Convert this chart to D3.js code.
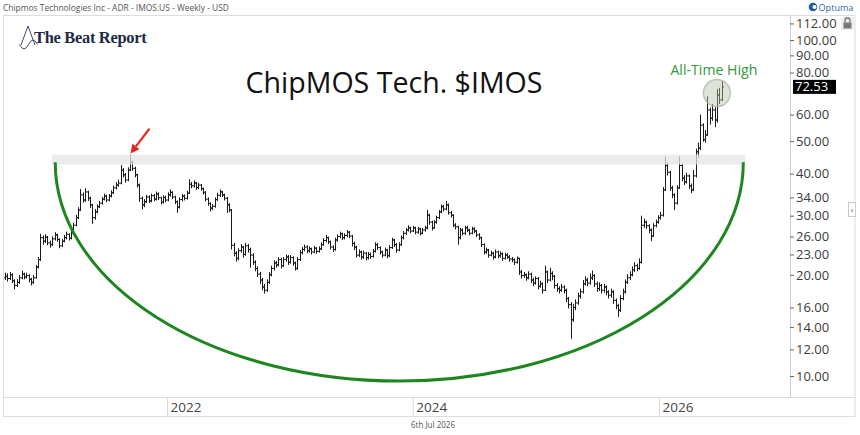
<!DOCTYPE html>
<html>
<head>
<meta charset="utf-8">
<script src="https://cdn.jsdelivr.net/npm/d3@7"></script>
<style>
  body { margin: 0; background: #fff; }
  svg { display: block; }
</style>
</head>
<body>
<svg id="chart" width="860" height="435"></svg>
<script>
// Weekly bars, first week starts Mon 7 Sep 2020
const startDate = "2020-09-07";

const closes = [
  19.8,19.5,20.0,19.2,18.6,19.0,19.6,20.1,19.7,19.9,
  19.4,19.0,19.6,21.1,22.2,25.8,25.2,25.9,24.9,24.6,
  25.6,26.3,25.5,24.4,25.2,25.8,26.4,25.7,26.6,28.1,
  29.6,31.2,34.6,33.4,35.3,33.8,32.3,29.6,30.8,31.9,
  32.7,33.6,34.3,33.4,34.3,35.1,36.3,37.0,37.5,41.0,
  39.7,38.3,41.0,43.3,41.5,39.7,37.0,33.8,32.3,33.0,
  34.1,33.2,34.4,33.6,34.8,33.9,32.9,34.0,33.4,34.6,
  35.2,34.1,33.0,31.8,33.5,34.3,33.8,35.0,37.2,36.8,
  37.5,36.4,37.0,36.1,35.2,33.6,32.6,31.6,32.0,33.5,
  34.5,35.3,34.6,33.8,32.3,31.2,24.5,23.2,22.4,23.6,
  24.2,23.0,24.4,23.8,22.9,21.8,20.9,20.1,19.3,18.4,
  18.0,19.0,20.0,20.9,21.7,21.4,22.2,21.3,22.2,22.6,
  21.8,22.5,21.7,20.9,22.2,23.3,23.8,24.2,23.6,23.9,
  23.4,24.0,23.5,23.9,24.6,25.3,25.8,25.1,24.2,23.8,
  25.4,26.0,26.5,25.8,26.2,26.8,26.1,24.8,24.2,22.9,
  23.4,22.6,23.2,22.5,23.0,22.7,23.5,24.6,24.1,23.4,
  22.9,23.7,22.8,24.1,25.4,24.6,23.7,24.6,25.8,26.6,
  27.2,27.6,27.0,27.6,26.8,27.4,26.6,27.2,27.6,30.1,
  28.7,27.6,28.7,29.6,30.8,31.9,31.4,32.3,30.6,30.1,
  28.1,27.8,25.8,27.2,26.6,27.6,27.2,26.6,27.4,27.0,
  26.3,25.8,24.6,23.4,23.7,22.9,23.2,22.6,23.4,22.8,
  23.1,22.4,22.9,22.6,22.3,22.2,21.8,22.4,20.4,19.9,
  20.0,19.6,20.1,19.3,18.9,19.5,18.5,18.8,18.0,20.4,
  19.3,20.2,19.8,18.6,18.2,18.0,18.4,18.0,17.0,16.3,
  14.7,16.0,16.5,17.3,17.8,18.8,19.3,18.9,19.6,19.9,
  18.8,18.2,18.6,18.0,18.4,17.8,17.4,17.8,16.8,16.2,
  15.7,17.0,17.8,19.0,19.6,20.0,20.7,21.3,20.9,21.8,
  28.1,28.7,28.0,27.2,26.1,28.0,28.7,29.6,30.1,35.8,
  42.3,40.4,36.3,34.6,32.7,36.3,42.3,38.8,37.8,39.4,
  36.8,35.8,39.4,46.5,47.7,55.8,50.5,52.2,61.9,58.5,
  61.9,57.8,68.6,66.3,72.53
];

const highs = [
  20.3,20.2,20.4,20.2,19.4,19.4,20.0,20.6,20.3,20.3,
  20.1,19.6,20.0,21.4,22.6,26.5,26.2,26.4,26.1,25.3,
  26.0,26.8,26.5,25.7,25.6,26.3,26.9,26.6,27.1,28.6,
  30.2,31.8,36.0,35.2,36.2,35.6,34.2,32.5,31.4,32.4,
  33.2,34.1,34.9,34.6,34.8,35.7,36.9,37.8,38.4,42.5,
  41.6,40.2,41.8,45.6,43.8,42.0,40.0,37.4,34.2,33.6,
  34.6,34.5,34.9,34.8,35.4,35.2,34.2,34.5,34.4,35.2,
  35.9,35.5,34.4,33.3,34.0,34.8,34.7,35.6,38.5,37.8,
  38.2,37.8,37.6,37.3,36.4,35.5,34.0,32.9,32.5,34.0,
  35.1,35.9,35.6,34.9,34.1,32.7,31.4,24.9,23.5,24.0,
  24.7,24.4,24.9,24.7,24.1,23.2,22.1,21.2,20.4,19.6,
  18.8,19.4,20.4,21.3,22.1,22.0,22.6,22.5,22.6,23.0,
  22.9,22.9,22.7,21.9,22.6,23.7,24.2,24.6,24.5,24.3,
  24.1,24.4,24.2,24.3,25.0,25.7,26.3,26.0,25.3,24.5,
  25.8,26.4,26.9,26.7,26.6,27.2,27.0,26.3,25.1,24.4,
  23.8,23.6,23.6,23.4,23.4,23.3,23.9,25.0,24.9,24.3,
  23.6,24.1,23.9,24.5,25.8,25.6,24.9,25.0,26.2,27.0,
  27.6,28.1,27.8,28.0,27.8,27.8,27.6,27.6,28.0,31.2,
  30.4,29.0,29.1,30.0,31.2,32.4,32.3,33.2,32.6,31.0,
  30.3,28.5,28.0,27.6,27.5,28.0,28.0,27.4,27.8,27.7,
  27.2,26.6,26.0,24.8,24.1,23.9,23.6,23.4,23.8,23.6,
  23.5,23.3,23.3,23.2,22.9,22.6,22.4,22.7,22.5,20.7,
  20.4,20.2,20.5,20.3,19.6,19.8,19.7,19.2,19.0,21.3,
  20.6,21.0,20.5,20.0,18.9,18.5,18.8,18.6,18.2,17.2,
  16.6,16.4,16.9,17.7,18.2,19.3,19.8,19.6,20.2,20.6,
  20.1,19.1,19.0,18.8,18.8,18.6,18.0,18.2,18.0,17.0,
  16.4,17.4,18.2,19.4,20.1,20.5,21.2,21.8,21.6,22.4,
  30.0,29.4,29.0,28.3,27.5,28.5,29.2,30.1,30.8,36.5,
  45.0,43.2,40.8,36.8,35.0,37.0,45.0,42.8,39.6,40.3,
  39.8,37.4,41.0,47.5,49.5,60.0,56.5,54.0,68.0,63.0,
  64.5,63.0,71.5,72.0,75.5
];

const lows = [
  19.3,19.1,19.3,18.9,18.1,18.4,18.8,19.4,19.4,19.5,
  19.0,18.6,18.8,19.5,20.9,22.0,24.6,24.9,24.5,24.1,
  24.4,25.3,25.1,24.0,24.2,25.0,25.5,25.3,25.5,26.4,
  27.9,29.3,31.0,32.8,33.0,33.2,31.6,28.4,29.2,30.5,
  31.6,32.4,33.3,32.9,33.1,34.0,34.8,35.9,36.6,37.2,
  39.0,37.6,38.0,40.7,40.8,39.0,36.4,33.0,31.3,31.8,
  32.7,32.7,32.9,33.1,33.3,33.4,32.4,32.6,32.9,33.1,
  34.2,33.6,32.5,30.6,31.5,33.1,33.3,33.5,34.8,36.2,
  36.4,35.8,36.0,35.6,34.7,33.1,32.1,30.9,31.2,31.7,
  33.2,34.1,34.1,33.3,30.6,30.7,23.8,22.7,21.9,22.1,
  23.3,22.5,22.8,23.3,21.0,21.4,20.5,19.7,18.8,18.0,
  17.6,17.8,18.8,19.8,20.6,21.0,21.2,20.9,21.1,21.9,
  21.4,21.6,21.3,20.6,20.7,22.0,23.0,23.5,23.2,23.3,
  23.0,23.2,23.1,23.3,23.7,24.4,25.0,24.7,23.8,23.4,
  23.6,25.1,25.7,25.4,25.5,25.9,25.7,24.3,23.7,22.5,
  22.6,22.2,22.3,22.1,22.2,22.3,22.5,23.3,23.7,23.0,
  22.5,22.7,22.4,22.6,23.9,24.2,23.3,23.5,24.4,25.5,
  26.3,26.9,26.6,26.8,26.4,26.5,26.2,26.4,26.9,27.3,
  28.2,27.1,27.4,28.4,29.3,30.5,30.9,31.1,30.2,29.6,
  27.7,27.3,24.6,25.5,26.2,26.3,26.8,26.2,26.4,26.6,
  25.9,25.4,24.2,23.0,23.1,22.5,22.7,22.2,22.4,22.4,
  22.5,22.0,22.2,22.3,21.9,21.8,21.4,21.6,20.0,19.5,
  19.6,19.2,19.4,18.9,18.5,18.7,18.1,18.3,17.6,17.9,
  18.9,19.1,19.3,18.2,17.8,17.6,17.8,17.6,16.6,15.9,
  12.9,14.5,15.7,16.3,17.0,17.6,18.6,18.5,18.7,19.3,
  18.4,17.8,17.9,17.6,17.7,17.4,17.0,17.1,16.4,15.8,
  15.0,15.5,16.8,17.6,18.8,19.3,19.8,20.4,20.5,20.7,
  21.6,27.6,27.4,26.6,25.2,25.9,27.7,28.4,29.2,29.8,
  35.5,39.5,35.6,33.8,31.2,32.4,36.0,38.0,37.0,37.4,
  36.0,35.0,35.5,39.0,44.6,47.0,49.8,49.5,51.8,56.0,
  57.5,55.0,56.8,64.5,65.8
];

const firstOpen = 19.6;
const yTicks = [10, 12, 14, 16, 20, 23, 26, 30, 34, 40, 50, 60, 80, 90, 100, 112];
const xTicks = [2022, 2024, 2026];

// Annotations: resistance zone, prior peak week, cup (week index / price)
const zoneTop = 45.6, zoneBottom = 42.6, zoneFrom = 20, zoneTo = 314;
const peakWeek = 53;
const athWeek = 302, athPrice = 69.5;
const cupLeftWeek = 21.3, cupRightWeek = 313.2, cupRimPrice = 43.3, cupBottomPrice = 9.66;

const plot = { left: 4, right: 790, top: 15, bottom: 397, axisBottom: 416, frameRight: 855 };
const FONT = "'Open Sans', 'Noto Sans', sans-serif";

const svg = d3.select("#chart");
const start = new Date(startDate + "T00:00:00Z");
const weekDate = i => new Date(start.getTime() + i * 7 * 864e5);

const bars = closes.map((c, i) => ({
  d: weekDate(i),
  o: i === 0 ? firstOpen : closes[i - 1],
  h: highs[i],
  l: lows[i],
  c: c,
}));

const x = d3.scaleUtc()
  .domain([Date.UTC(2022, 0, 1), Date.UTC(2026, 0, 1)])
  .range([167, 659]);
const y = d3.scaleLog().domain([10, 100]).range([376, 40]);

// fit a text element to a given pixel width by scaling its font size
function fitWidth(text, w) {
  const bw = text.node().getComputedTextLength();
  const fs = parseFloat(text.attr("font-size"));
  text.attr("font-size", (fs * w / bw).toFixed(2));
  return text;
}

// header line
fitWidth(svg.append("text")
  .attr("x", 3).attr("y", 11)
  .attr("font-family", FONT).attr("font-size", 9)
  .attr("fill", "#555")
  .text("Chipmos Technologies Inc - ADR - IMOS:US - Weekly - USD"), 226);

// frame
svg.append("rect")
  .attr("x", 3.5).attr("y", plot.top + 0.5)
  .attr("width", plot.frameRight - 3.5).attr("height", plot.axisBottom - plot.top)
  .attr("fill", "none").attr("stroke", "#dcdcdc");
svg.append("line")
  .attr("x1", 3.5).attr("x2", plot.frameRight)
  .attr("y1", plot.bottom + 0.5).attr("y2", plot.bottom + 0.5)
  .attr("stroke", "#dcdcdc");
svg.append("line")
  .attr("x1", plot.right + 0.5).attr("x2", plot.right + 0.5)
  .attr("y1", plot.top).attr("y2", plot.bottom)
  .attr("stroke", "#cfcfcf");

svg.append("clipPath").attr("id", "clip")
  .append("rect")
  .attr("x", plot.left).attr("y", plot.top + 1)
  .attr("width", plot.right - plot.left).attr("height", plot.bottom - plot.top - 1);

const inner = svg.append("g").attr("clip-path", "url(#clip)");

// OHLC bars
const px = d => Math.round(x(d)) + 0.5;
inner.append("path")
  .attr("fill", "none")
  .attr("stroke", "#1a1a1a")
  .attr("stroke-width", 1)
  .attr("d", bars.map(b => {
    const xx = px(b.d);
    return `M${xx},${y(b.h)}V${y(b.l)}M${xx - 1.5},${y(b.o)}H${xx}M${xx},${y(b.c)}H${xx + 1.5}`;
  }).join(""));

// resistance zone (drawn over the bars)
inner.append("rect")
  .attr("x", x(weekDate(zoneFrom)))
  .attr("width", x(weekDate(zoneTo)) - x(weekDate(zoneFrom)))
  .attr("y", y(zoneTop))
  .attr("height", y(zoneBottom) - y(zoneTop))
  .attr("fill", "#e4e4e4")
  .attr("opacity", 0.75);

// cup outline: half ellipse hanging from the zone
const cupX1 = x(weekDate(cupLeftWeek)), cupX2 = x(weekDate(cupRightWeek));
const rimY = y(cupRimPrice), botY = y(cupBottomPrice);
inner.append("path")
  .attr("fill", "none")
  .attr("stroke", "#1e861e")
  .attr("stroke-width", 3)
  .attr("d", `M${cupX1},${rimY}A${(cupX2 - cupX1) / 2},${botY - rimY} 0 0 0 ${cupX2},${rimY}`);

// all time high marker
const athX = x(weekDate(athWeek)), athY = y(athPrice);
inner.append("circle")
  .attr("cx", athX).attr("cy", athY).attr("r", 13.5)
  .attr("fill", "#b8c4a8").attr("fill-opacity", 0.45)
  .attr("stroke", "#a9b39c").attr("stroke-width", 1.5).attr("stroke-opacity", 0.7);
fitWidth(svg.append("text")
  .attr("x", athX - 3).attr("y", athY - 18)
  .attr("text-anchor", "middle")
  .attr("font-family", FONT).attr("font-size", 13)
  .attr("fill", "#34993a")
  .text("All-Time High"), 87);

// red arrow at the prior peak
const tipX = px(bars[peakWeek].d), tipY = y(bars[peakWeek].h) - 1;
const tailX = tipX + 19, tailY = tipY - 25;
const ang = Math.atan2(tipY - tailY, tipX - tailX);
const headLen = 9, headW = 4.5;
const bx = tipX - headLen * Math.cos(ang), by = tipY - headLen * Math.sin(ang);
svg.append("line")
  .attr("x1", tailX).attr("y1", tailY)
  .attr("x2", bx).attr("y2", by)
  .attr("stroke", "#e3261f").attr("stroke-width", 2.2);
svg.append("path")
  .attr("fill", "#e3261f")
  .attr("d", `M${tipX},${tipY}L${bx + headW * Math.sin(ang)},${by - headW * Math.cos(ang)}L${bx - headW * Math.sin(ang)},${by + headW * Math.cos(ang)}Z`);

// y axis
const axisY = svg.append("g")
  .attr("transform", `translate(${plot.right},0)`)
  .call(d3.axisRight(y).tickValues(yTicks).tickFormat(d3.format(".2f")).tickSize(4).tickPadding(2))
  .call(g => g.select(".domain").remove());
axisY.selectAll(".tick line").attr("stroke", "#666");
axisY.selectAll(".tick text")
  .attr("font-family", FONT).attr("font-size", 13).attr("fill", "#3a3a3a");

// last price label
const last = bars[bars.length - 1];
svg.append("rect")
  .attr("x", plot.right + 3).attr("y", y(last.c) - 7)
  .attr("width", 43).attr("height", 14)
  .attr("fill", "#000");
svg.append("text")
  .attr("x", plot.right + 5).attr("y", y(last.c))
  .attr("dy", "0.35em")
  .attr("font-family", FONT).attr("font-size", 13).attr("fill", "#fff")
  .text(d3.format(".2f")(last.c));

// x axis
const axisX = svg.append("g")
  .attr("transform", `translate(0,${plot.bottom})`)
  .call(d3.axisBottom(x)
    .tickValues(xTicks.map(yr => new Date(Date.UTC(yr, 0, 1))))
    .tickFormat(d3.utcFormat("%Y"))
    .tickSize(plot.axisBottom - plot.bottom))
  .call(g => g.select(".domain").remove());
axisX.selectAll(".tick line").attr("stroke", "#dcdcdc");
axisX.selectAll(".tick text")
  .attr("text-anchor", "start")
  .attr("x", 3).attr("y", 10).attr("dy", "0.35em")
  .attr("font-family", FONT).attr("font-size", 13.5).attr("fill", "#444");

// date stamp
fitWidth(svg.append("text")
  .attr("x", 433).attr("y", 428)
  .attr("text-anchor", "middle")
  .attr("font-family", FONT).attr("font-size", 8)
  .attr("fill", "#555")
  .text("6th Jul 2026"), 44);

// chart title
fitWidth(svg.append("text")
  .attr("x", 394).attr("y", 93)
  .attr("text-anchor", "middle")
  .attr("font-family", FONT).attr("font-size", 30)
  .attr("fill", "#111")
  .text("ChipMOS Tech. $IMOS"), 297);

// The Beat Report logo
const logo = svg.append("g");
logo.append("path")
  .attr("fill", "none").attr("stroke", "#2a3550").attr("stroke-width", 0.9)
  .attr("d", "M21,45L28,26L35,45M19.5,44.5q4.5,9,9,0t9,0");
fitWidth(logo.append("text")
  .attr("x", 34).attr("y", 43)
  .attr("font-family", "'Liberation Serif', 'DejaVu Serif', serif")
  .attr("font-weight", "bold").attr("font-size", 19)
  .attr("fill", "#1d2a44")
  .attr("letter-spacing", -0.3)
  .text("The Beat Report"), 113);

// Optuma badge, lock and side tab
svg.append("circle").attr("cx", 813).attr("cy", 7).attr("r", 4.3).attr("fill", "#1d5e9e");
svg.append("circle").attr("cx", 814.5).attr("cy", 7).attr("r", 2).attr("fill", "#fff");
fitWidth(svg.append("text")
  .attr("x", 818.5).attr("y", 11)
  .attr("font-family", FONT).attr("font-size", 10)
  .attr("fill", "#2b6cb0")
  .text("Optuma"), 35);
svg.append("rect").attr("x", 841).attr("y", 17).attr("width", 13).attr("height", 13).attr("fill", "#eee");
svg.append("rect").attr("x", 843.5).attr("y", 22.5).attr("width", 8).attr("height", 6).attr("fill", "#777");
svg.append("path").attr("d", "M845,22.5v-2a2.5,2.5 0 0 1 5,0v2")
  .attr("fill", "none").attr("stroke", "#777").attr("stroke-width", 1.3);
svg.append("rect").attr("x", 848.5).attr("y", 202.5).attr("width", 7).attr("height", 14)
  .attr("fill", "#fff").attr("stroke", "#ccc");
svg.append("text").attr("x", 852).attr("y", 213).attr("text-anchor", "middle")
  .attr("font-family", FONT).attr("font-size", 9).attr("fill", "#666").text("‹");
</script>
</body>
</html>
